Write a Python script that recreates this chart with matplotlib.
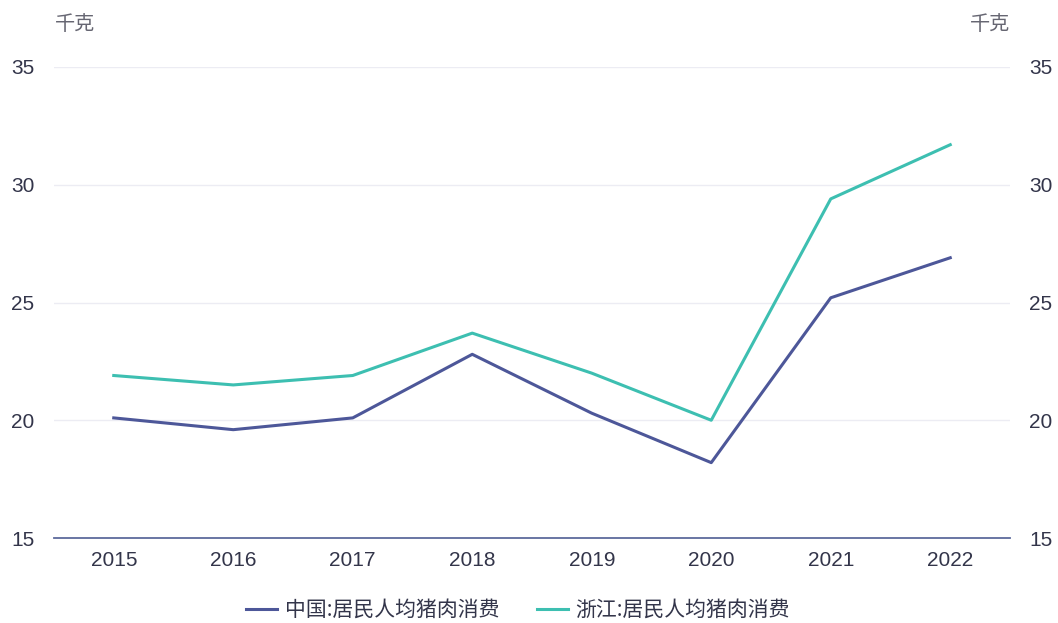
import numpy as np
import matplotlib.pyplot as plt

plt.rcParams['font.family'] = ['Noto Sans CJK SC', 'DejaVu Sans']

years = ["2015", "2016", "2017", "2018", "2019", "2020", "2021", "2022"]
china = [20.1, 19.6, 20.1, 22.8, 20.3, 18.2, 25.2, 26.9]
zhejiang = [21.9, 21.5, 21.9, 23.7, 22.0, 20.0, 29.4, 31.7]
yticks = [15, 20, 25, 30, 35]

c_china = "#4d5799"
c_zj = "#3dbfb1"
txt = "#33354a"

fig = plt.figure(figsize=(10.58, 6.23), dpi=100)
ax = fig.add_axes([54 / 1058, 1 - 538 / 623, (1010 - 54) / 1058, (538 - 67) / 623])
x = np.arange(len(years))
ax.plot(x, china, color=c_china, lw=2.2, label="中国:居民人均猪肉消费")
ax.plot(x, zhejiang, color=c_zj, lw=2.2, label="浙江:居民人均猪肉消费")

ax.set_xlim(-0.5, len(years) - 0.5)
ax.set_ylim(15, 35)
ax.set_xticks(x)
ax.set_xticklabels(years)
ax.set_yticks(yticks)
ax.grid(axis="y", color="#ececf3", lw=1)
ax.set_axisbelow(True)
for s in ["top", "left", "right"]:
    ax.spines[s].set_visible(False)
ax.spines["bottom"].set_color("#5d6a9c")
ax.spines["bottom"].set_linewidth(1.3)
ax.tick_params(axis="both", length=0, labelsize=15, labelcolor=txt)
ax.tick_params(axis="x", pad=9)
ax.tick_params(axis="y", pad=14)

ax2 = ax.twinx()
ax2.set_ylim(15, 35)
ax2.set_yticks(yticks)
for s in ["top", "left", "right", "bottom"]:
    ax2.spines[s].set_visible(False)
ax2.tick_params(axis="y", length=0, labelsize=15, labelcolor=txt, pad=14)

for lab in ax.get_xticklabels() + ax.get_yticklabels() + ax2.get_yticklabels():
    lab.set_family(["Liberation Sans", "DejaVu Sans"])

fig.text(55 / 1058, 1 - 25 / 623, "千克", fontsize=14.5, color="#666672", va="center", ha="left")
fig.text(1010 / 1058, 1 - 25 / 623, "千克", fontsize=14.5, color="#666672", va="center", ha="right")

fig.legend(loc="center", bbox_to_anchor=(518 / 1058, 1 - 610 / 623), ncol=2, frameon=False,
           fontsize=15, handlelength=1.5, handletextpad=0.35, columnspacing=1.8, labelcolor=txt)

fig.savefig("out.png", dpi=100)
